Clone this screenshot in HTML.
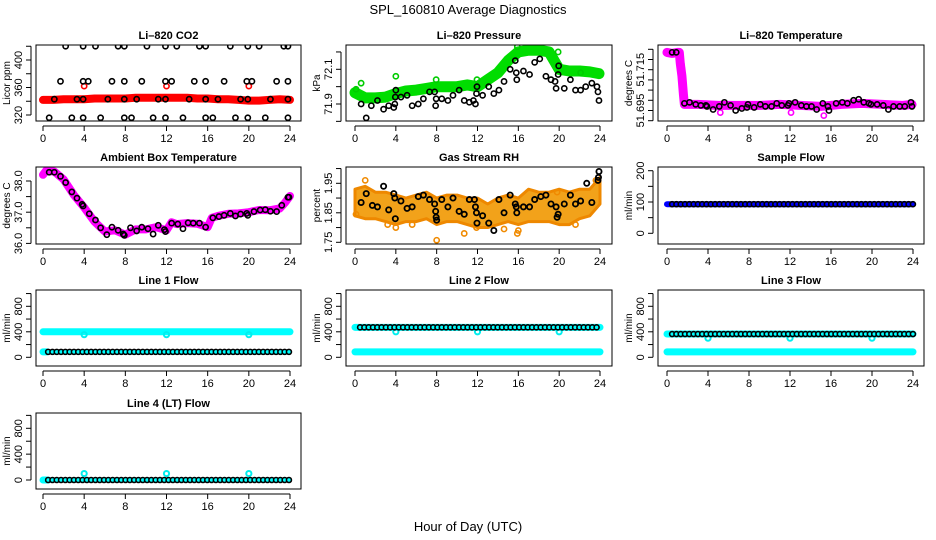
<!DOCTYPE html>
<html><head><meta charset="utf-8">
<style>
html,body{margin:0;padding:0;background:#fff;}
svg{display:block;font-family:"Liberation Sans",Arial,sans-serif;}
</style></head>
<body>
<svg id="fig" width="936" height="540" viewBox="0 0 936 540" xmlns="http://www.w3.org/2000/svg">
<rect width="936" height="540" fill="#fff"/>
<text x="468" y="14" text-anchor="middle" font-size="13">SPL_160810  Average Diagnostics</text>
<text x="468" y="531" text-anchor="middle" font-size="13">Hour of Day (UTC)</text>
</svg>
<script>
// ---------- DATA ----------
const xTicks=[0,4,8,12,16,20,24];
// CO2
const co2BandY=[342,342,343,343,343,344,344,344,344,345,345,345,345,345,345,344,344,343,343,342,341,341,342,343,342];
const co2X420=[2.2,3.9,5.1,7.3,7.9,10.1,11.9,13.0,15.2,15.8,18.2,19.9,21.0,23.4,23.8];
const co2X369=[1.7,3.9,4.4,6.7,7.9,9.6,11.9,12.5,14.7,15.8,17.6,19.8,20.3,22.7,23.8];
const co2X343=[1.1,3.3,3.9,6.3,7.9,9.1,11.2,11.9,14.2,15.8,17.0,19.2,19.9,22.1,23.8];
const co2X316=[0.6,2.8,3.9,5.6,7.9,8.6,10.7,11.9,13.6,15.8,16.5,18.7,19.9,21.6,23.8];
const co2RedX=[4,12,20];
const co2RedY=[362,362,362];
// Pressure
const presBandY=[71.965,71.935,71.935,71.94,71.96,71.975,71.98,71.99,72.0,72.0,72.0,72.01,72.0,72.04,72.08,72.15,72.2,72.21,72.21,72.2,72.1,72.09,72.09,72.085,72.075];
const presX=[0.6,1.1,1.6,2.2,2.8,3.3,3.8,3.9,3.95,4.0,4.5,5.1,5.6,6.2,6.7,7.3,7.8,7.9,7.95,8.5,9.1,9.6,10.2,10.7,11.2,11.6,11.8,11.9,11.95,12.5,13.1,13.6,14.1,14.6,15.2,15.7,15.8,15.85,16.5,17.1,17.6,18.1,18.7,19.2,19.6,19.7,19.9,19.95,20.5,21.1,21.6,22.1,22.6,23.2,23.7,23.8,23.9];
const presY=[71.90,71.82,71.89,71.92,71.87,71.89,71.88,71.90,71.94,71.98,71.94,71.95,71.89,71.90,71.93,71.97,71.97,71.89,71.93,71.93,71.92,71.95,71.98,71.92,71.91,71.92,71.90,71.96,72.00,71.95,72.00,71.96,71.98,72.03,72.10,72.15,72.08,72.04,72.09,72.07,72.14,72.16,72.06,72.04,72.03,71.99,72.07,72.12,71.99,72.04,71.98,71.98,72.00,72.02,72.00,71.97,71.92];
const presGreenX=[0.1,0.6,4.0,7.95,11.95,15.9,19.9,22.1];
const presGreenY=[71.985,72.02,72.06,72.04,72.04,72.23,72.2,72.08];
// Li-820 Temperature
const tempBandX=[0,0.5,1.0,1.2,1.3,1.45,1.6,1.7,3,5,7,9,11,13,15,17,19,21,23,23.9];
const tempBandY=[51.7235,51.723,51.7235,51.7235,51.718,51.712,51.703,51.698,51.698,51.6975,51.6975,51.6975,51.698,51.6975,51.697,51.698,51.6985,51.698,51.6975,51.698];
const tempMagX=[1.35,1.4,1.45,1.5,1.6,15.3,12.1,5.2];
const tempMagY=[51.7195,51.7175,51.7155,51.7115,51.7065,51.6925,51.694,51.694];
const tempX=[0.5,0.9,1.7,2.2,2.8,3.3,3.8,3.9,4.5,5.1,5.6,6.2,6.7,7.3,7.8,7.9,8.5,9.1,9.6,10.2,10.7,11.2,11.8,11.9,12.5,13.1,13.6,14.1,14.6,15.2,15.7,15.8,16.5,17.1,17.6,18.2,18.7,19.2,19.7,19.9,20.5,21.1,21.6,22.1,22.7,23.2,23.8,23.9];
const tempY=[51.7235,51.7235,51.6985,51.699,51.698,51.6975,51.6975,51.697,51.6955,51.697,51.699,51.6975,51.695,51.696,51.6965,51.698,51.6965,51.698,51.697,51.697,51.6985,51.6975,51.6975,51.6985,51.699,51.6975,51.697,51.697,51.6955,51.6985,51.697,51.695,51.6985,51.699,51.6985,51.700,51.7005,51.699,51.6985,51.698,51.698,51.6975,51.6955,51.697,51.697,51.697,51.699,51.697];
// Ambient Box Temperature
const ambX=[0.6,1.1,1.7,2.2,2.8,3.3,3.8,3.9,4.5,5.1,5.6,6.2,6.7,7.3,7.8,7.9,8.5,9.1,9.6,10.2,10.7,11.2,11.8,11.9,12.5,13.1,13.6,14.1,14.6,15.2,15.8,16.5,17.1,17.6,18.2,18.7,19.2,19.8,19.9,20.5,21.1,21.6,22.1,22.7,23.2,23.8,23.9];
const ambY=[38.28,38.28,38.15,37.95,37.65,37.45,37.25,37.2,36.95,36.75,36.5,36.28,36.52,36.42,36.3,36.26,36.5,36.4,36.52,36.47,36.3,36.58,36.44,36.38,36.65,36.62,36.47,36.66,36.65,36.65,36.52,36.82,36.86,36.9,36.96,36.88,36.94,36.96,36.9,37.02,37.07,37.08,37.03,37.02,37.22,37.48,37.48];
const ambBandX=[0,0.3,1.1,2,3,4,5,6,7,8,9,10,11,12,12.5,13,14,15,16,16.4,17,18,19,20,21,22,23,23.5,24];
const ambBandY=[38.2,38.33,38.3,38.05,37.55,37.15,36.7,36.38,36.42,36.28,36.45,36.45,36.52,36.42,36.68,36.62,36.65,36.63,36.52,36.82,36.88,36.95,36.96,37.0,37.07,37.06,37.12,37.3,37.52];
// Gas Stream RH
const rhUpper=[1.93,1.94,1.92,1.92,1.91,1.90,1.91,1.92,1.90,1.91,1.91,1.90,1.90,1.88,1.90,1.91,1.90,1.93,1.92,1.92,1.93,1.92,1.93,1.93,1.97];
const rhLower=[1.84,1.83,1.83,1.82,1.81,1.82,1.82,1.83,1.81,1.82,1.82,1.81,1.80,1.80,1.81,1.82,1.81,1.82,1.82,1.82,1.81,1.81,1.83,1.84,1.88];
const rhOutX=[0.1,1.0,3.2,4.0,5.6,8.0,10.7,11.9,14.6,15.9,16.0,19.8,21.6,23.6];
const rhOutY=[1.845,1.96,1.81,1.80,1.81,1.757,1.78,1.80,1.795,1.78,1.79,1.92,1.81,1.96];
const rhX=[0.6,1.1,1.7,2.2,2.8,3.3,3.8,3.9,3.95,4.5,5.1,5.6,6.2,6.7,7.3,7.8,7.9,7.95,8.0,8.5,9.1,9.6,10.2,10.7,11.2,11.7,11.8,11.9,11.95,12.5,13.1,13.6,14.1,14.6,15.2,15.7,15.8,15.85,16.5,17.1,17.6,18.2,18.7,19.2,19.7,19.8,19.9,20.5,21.1,21.6,22.1,22.7,23.2,23.8,23.85,23.9];
const rhY=[1.885,1.915,1.875,1.87,1.94,1.86,1.915,1.90,1.83,1.89,1.865,1.87,1.905,1.91,1.895,1.88,1.855,1.835,1.825,1.895,1.87,1.90,1.855,1.845,1.895,1.895,1.87,1.85,1.815,1.84,1.815,1.79,1.895,1.85,1.91,1.88,1.87,1.85,1.87,1.87,1.895,1.905,1.91,1.88,1.87,1.835,1.845,1.88,1.91,1.88,1.89,1.95,1.885,1.96,1.97,1.99];
// Flows: [start, end, value]
const sampleBand=[0,24,93];
const sampleBlack=[0.5,24,93];
const line1Cyan=[[0,24,400],[0,0.4,85]];
const line1Black=[0.5,24,85];
const line1DipX=[4,12,20]; const line1DipY=[355,355,355];
const line2Cyan=[[0,24,470],[0,24,85]];
const line2Black=[0.5,24,470];
const line2DipX=[4,12,20]; const line2DipY=[400,400,400];
const line3Cyan=[[0,24,365],[0,24,85]];
const line3Black=[0.5,24,365];
const line3DipX=[4,12,20]; const line3DipY=[300,300,300];
const line4Cyan=[[0,0.5,0]];
const line4Black=[0.5,24,0];
const line4DipX=[4,12,20]; const line4DipY=[100,100,100];

// ---------- LAYOUT ----------
const NS='http://www.w3.org/2000/svg';
const svg=document.getElementById('fig');
const COLS=[{x0:43,x24:290,L:36,R:301},{x0:355,x24:600,L:346,R:612},{x0:667,x24:913,L:658,R:924}];
const ROWS=[{T:45,B:121},{T:167,B:244},{T:290,B:366},{T:413,B:489}];
function el(tag,attrs,parent){const e=document.createElementNS(NS,tag);for(const k in attrs)e.setAttribute(k,attrs[k]);(parent||svg).appendChild(e);return e;}

function panel(name,c,r,title,ylab,v1,p1,v2,p2,ticks,labels,dec){
  const C=COLS[c],R=ROWS[r];
  const g=el('g',{});
  
  
  const sx=v=>C.x0+(v/24)*(C.x24-C.x0);
  const sy=v=>p1+(v-v1)*(p2-p1)/(v2-v1);
  const clip=el('clipPath',{id:'clip-'+name},g);
  el('rect',{x:C.L,y:R.T,width:C.R-C.L,height:R.B-R.T},clip);
  const plot=el('g',{'clip-path':'url(#clip-'+name+')'},g);
  
  
  const box=el('rect',{x:C.L,y:R.T,width:C.R-C.L,height:R.B-R.T,fill:'none',stroke:'#000','stroke-width':1},g);
  
  
  const t=el('text',{x:(C.L+C.R)/2,y:R.T-6,'text-anchor':'middle','font-size':11,'font-weight':'bold'},g);
  t.textContent=title;
  
  
  const xa=el('g',{},g);
  
  
  el('line',{x1:sx(0),x2:sx(24),y1:R.B+5,y2:R.B+5,stroke:'#000'},xa);
  xTicks.forEach(v=>{
    el('line',{x1:sx(v),x2:sx(v),y1:R.B+5,y2:R.B+10,stroke:'#000'},xa);
    const tl=el('text',{x:sx(v),y:R.B+21,'text-anchor':'middle','font-size':11},xa);
    tl.textContent=v;
    
    
  });
  const ya=el('g',{},g);
  
  
  const ax=C.L-5;
  el('line',{x1:ax,x2:ax,y1:sy(ticks[0]),y2:sy(ticks[ticks.length-1]),stroke:'#000'},ya);
  ticks.forEach(v=>el('line',{x1:ax-5,x2:ax,y1:sy(v),y2:sy(v),stroke:'#000'},ya));
  labels.forEach(v=>{
    const yy=sy(v);
    const tl=el('text',{x:ax-9,y:yy,'text-anchor':'middle','font-size':11,transform:`rotate(-90 ${ax-9} ${yy})`},ya);
    tl.textContent=v.toFixed(dec);
    
    
  });
  const yl=el('text',{x:C.L-26,y:(R.T+R.B)/2,'text-anchor':'middle','font-size':10,transform:`rotate(-90 ${C.L-26} ${(R.T+R.B)/2})`},g);
  yl.textContent=ylab;
  
  
  return {sx,sy,plot};
}
function pts(P,xs,ys,color,r,sw,nm){
  xs.forEach((x,i)=>{
    const c=el('circle',{cx:P.sx(x),cy:P.sy(ys[i]),r:r||2.6,fill:'none',stroke:color,'stroke-width':sw||1.6},P.plot);
    
    
  });
}
function band(P,xs,ys,color,w,nm){
  const d=xs.map((x,i)=>(i?'L':'M')+P.sx(x).toFixed(1)+' '+P.sy(ys[i]).toFixed(1)).join(' ');
  const p=el('path',{d,fill:'none',stroke:color,'stroke-width':w,'stroke-linejoin':'round','stroke-linecap':'round'},P.plot);
  
  
}
function flat(P,seg,color,w,nm){
  const p=el('line',{x1:P.sx(seg[0]),x2:P.sx(seg[1]),y1:P.sy(seg[2]),y2:P.sy(seg[2]),stroke:color,'stroke-width':w,'stroke-linecap':'round'},P.plot);
  
  
}
function flatPts(P,seg,color,inner,nm){
  const x0=P.sx(seg[0]),x1=P.sx(seg[1]),y=P.sy(seg[2]);
  for(let x=x0;x<=x1+0.1;x+=4.3){
    const c=el('circle',{cx:x,cy:y,r:2.5,fill:inner,stroke:color,'stroke-width':1.6},P.plot);
    
    
  }
}
const hrs=co2BandY.map((_,i)=>i);

// CO2
let P=panel('co2',0,0,'Li\u2013820 CO2','Licor ppm',320,115,400,60,[320,340,360,380,400,420],[320,360,400],0);
band(P,hrs,co2BandY,'#ff0000',8,'co2-band');
pts(P,co2RedX,co2RedY,'#ff0000',2.6,1.6,'co2-red-point');
[[co2X420,420],[co2X369,369],[co2X343,343],[co2X316,316]].forEach(([xs,v])=>pts(P,xs,xs.map(()=>v),'#000',2.6,1.6,'co2-point'));

// Pressure
P=panel('pressure',1,0,'Li\u2013820 Pressure','kPa',71.9,104,72.1,69.3,[71.8,71.9,72.0,72.1,72.2],[71.9,72.1],1);
band(P,hrs.slice(0,24).concat([23.9]),presBandY,'#00dd00',11,'pressure-band');
pts(P,presGreenX,presGreenY,'#00cc00',2.6,1.6,'pressure-green-point');
pts(P,presX,presY,'#000',2.6,1.6,'pressure-point');

// Temperature
P=panel('li820-temp',2,0,'Li\u2013820 Temperature','degrees C',51.725,49.3,51.69,120.7,[51.69,51.695,51.7,51.705,51.71,51.715,51.72,51.725],[51.695,51.715],3);
band(P,tempBandX,tempBandY,'#ff00ff',9,'temp-band');
pts(P,tempMagX,tempMagY,'#ff00ff',2.6,1.6,'temp-magenta-point');
pts(P,tempX,tempY,'#000',2.6,1.6,'temp-point');

// Ambient
P=panel('ambient',0,1,'Ambient Box Temperature','degrees C',38,181,36,243.4,[36,36.5,37,37.5,38],[36,37,38],1);
band(P,ambBandX,ambBandY,'#ff00ff',8,'ambient-band');
pts(P,ambX,ambY,'#000',2.6,1.6,'ambient-point');

// RH
P=panel('rh',1,1,'Gas Stream RH','percent',1.95,183.3,1.75,242.3,[1.75,1.8,1.85,1.9,1.95,2.0],[1.75,1.85,1.95],2);
(function(){
  const up=hrs.map((h,i)=>P.sx(h).toFixed(1)+','+P.sy(rhUpper[i]).toFixed(1));
  const lo=hrs.map((h,i)=>P.sx(h).toFixed(1)+','+P.sy(rhLower[i]).toFixed(1)).reverse();
  const pg=el('polygon',{points:up.concat(lo).join(' '),fill:'#f2a21a',stroke:'#ee8800','stroke-width':3,'stroke-linejoin':'round'},P.plot);
  
  
})();
pts(P,rhOutX,rhOutY,'#f08a00',2.6,1.6,'rh-outlier');
pts(P,rhX,rhY,'#000',2.6,1.8,'rh-point');

// Sample flow
P=panel('sample-flow',2,1,'Sample Flow','ml/min',200,170.7,0,233.3,[0,50,100,150,200],[0,100,200],0);
flat(P,sampleBand,'#0000ff',6,'sample-band');
flatPts(P,sampleBlack,'#000','#0000ff','sample-point');

function flowPanel(name,c,r,title,cyan,black,dx,dy){
  const p0=r===2?357.3:480, p8=r===2?306.3:428.3;
  const Q=panel(name,c,r,title,'ml/min',0,p0,800,p8,[0,200,400,600,800,1000],[0,400,800],0);
  cyan.forEach(s=>flat(Q,s,'#00ffff',7,name+'-cyan-band'));
  pts(Q,dx,dy,'#00eeee',2.6,2,name+'-cyan-point');
  flatPts(Q,black,'#000','#00ffff',name+'-point');
}
flowPanel('line1-flow',0,2,'Line 1 Flow',line1Cyan,line1Black,line1DipX,line1DipY);
flowPanel('line2-flow',1,2,'Line 2 Flow',line2Cyan,line2Black,line2DipX,line2DipY);
flowPanel('line3-flow',2,2,'Line 3 Flow',line3Cyan,line3Black,line3DipX,line3DipY);
flowPanel('line4-flow',0,3,'Line 4 (LT) Flow',line4Cyan,line4Black,line4DipX,line4DipY);
</script>
</body></html>
